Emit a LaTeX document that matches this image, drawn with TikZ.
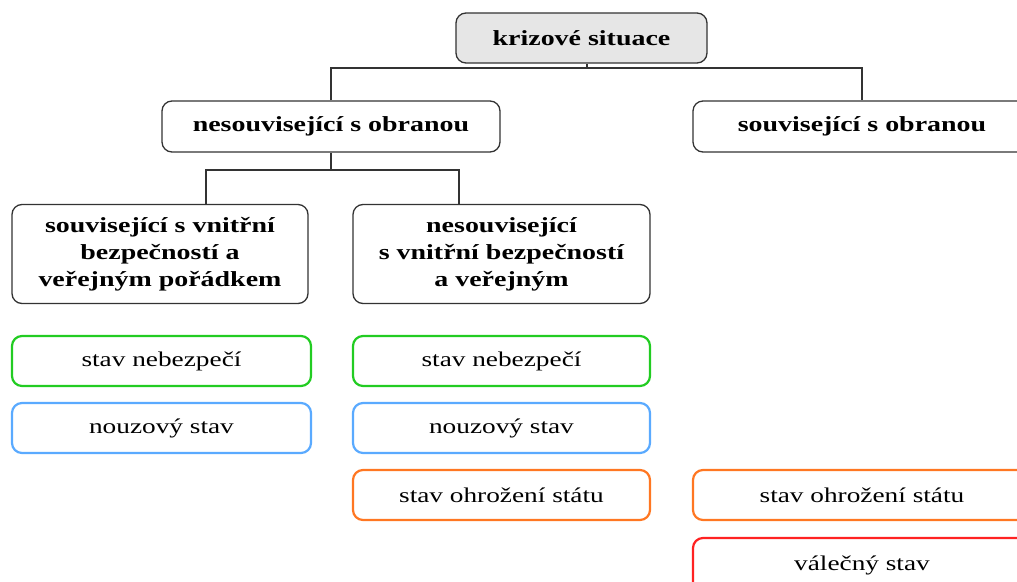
\documentclass[tikz,border=0pt]{standalone}
\usepackage{fontspec}
\setmainfont{Liberation Serif}[FakeStretch=1.3]
\definecolor{boxgray}{HTML}{E6E6E6}
\definecolor{cgreen}{HTML}{22CC22}
\definecolor{cblue}{HTML}{5AAAFF}
\definecolor{corange}{HTML}{FF7722}
\definecolor{cred}{HTML}{FF2222}
\tikzset{
  hbox/.style={draw=black!80, line width=1.3pt, rounded corners=10pt, inner sep=0pt,
    align=center, font=\fontsize{21.5}{27}\selectfont\bfseries},
  sbox/.style={draw=#1, line width=2.2pt, rounded corners=10pt, inner sep=0pt,
    minimum height=50pt, align=center, font=\fontsize{21}{27}\selectfont},
  conn/.style={draw=black!80, line width=1.3pt}
}
\begin{document}
\begin{tikzpicture}[x=1pt,y=-1pt]
\useasboundingbox (0,0) rectangle (1017,581);
% headings
\node[hbox, fill=boxgray, minimum width=251pt, minimum height=50pt] (top) at (581.5,38) {krizové situace};
\node[hbox, minimum width=338pt, minimum height=51pt] (nes) at (331,126.5) {nesouvisející s obranou};
\node[hbox, minimum width=338pt, minimum height=51pt] (sou) at (862,126.5) {související s obranou};
\node[hbox, minimum width=296pt, minimum height=99pt] (vna) at (160,254) {související s vnitřní\\bezpečností a\\veřejným pořádkem};
\node[hbox, minimum width=297pt, minimum height=99pt] (vnb) at (501.5,254) {nesouvisející\\s vnitřní bezpečností\\a veřejným};
% states
\node[sbox=cgreen, minimum width=299pt] (neb1) at (161.5,361) {stav nebezpečí};
\node[sbox=cgreen, minimum width=297pt] (neb2) at (501.5,361) {stav nebezpečí};
\node[sbox=cblue, minimum width=299pt] (nou1) at (161.5,428) {nouzový stav};
\node[sbox=cblue, minimum width=297pt] (nou2) at (501.5,428) {nouzový stav};
\node[sbox=corange, minimum width=297pt] (ohr1) at (501.5,495) {stav ohrožení státu};
\node[sbox=corange, minimum width=338pt] (ohr2) at (862,495) {stav ohrožení státu};
\node[sbox=cred, minimum width=338pt, minimum height=54pt] (val) at (862,565) {válečný stav};
% connectors
\coordinate (t1) at (587,68);
\draw[conn] (nes.north) |- (t1) -| (sou.north);
\draw[conn] (t1) -- (t1 |- top.south);
\coordinate (c1) at (206,170);
\coordinate (c2) at (459,170);
\draw[conn] (c1 |- vna.north) |- (c2) -- (c2 |- vnb.north);
\draw[conn] (nes.south) -- (nes.south |- c1);
\end{tikzpicture}
\end{document}
